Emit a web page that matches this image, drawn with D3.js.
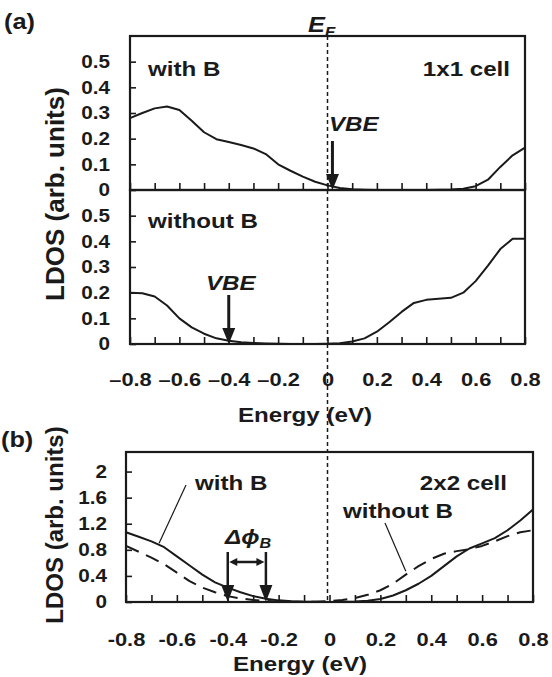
<!DOCTYPE html>
<html>
<head>
<meta charset="utf-8">
<script src="https://cdn.jsdelivr.net/npm/d3@7"></script>
<style>
html, body { margin: 0; padding: 0; background: #fff; }
svg { display: block; font-family: "Liberation Sans", Arial, sans-serif; font-weight: bold; }
</style>
</head>
<body>
<div id="chart"></div>
<script>
// energy grid (eV), shared by all four curves
const energy = [-0.8, -0.75, -0.7, -0.65, -0.6, -0.55, -0.5, -0.45, -0.4, -0.35, -0.3, -0.25, -0.2, -0.15, -0.1, -0.05,
	0, 0.05, 0.1, 0.15, 0.2, 0.25, 0.3, 0.35, 0.4, 0.45, 0.5, 0.55, 0.6, 0.65, 0.7, 0.75, 0.8];

// (a) 1x1 cell
const ldos1x1WithB = [0.28, 0.30, 0.318, 0.325, 0.312, 0.27, 0.225, 0.198, 0.187, 0.175, 0.162, 0.14, 0.10, 0.075, 0.052, 0.032,
	0.018, 0.008, 0.003, 0.001, 0, 0, 0, 0, 0, 0.001, 0.002, 0.005, 0.015, 0.04, 0.09, 0.135, 0.165];
const ldos1x1WithoutB = [0.2, 0.198, 0.185, 0.15, 0.1, 0.065, 0.04, 0.022, 0.013, 0.007, 0.004, 0.002, 0.001, 0, 0, 0,
	0.001, 0.003, 0.01, 0.022, 0.048, 0.085, 0.125, 0.16, 0.172, 0.176, 0.18, 0.2, 0.245, 0.305, 0.37, 0.41, 0.41];

// (b) 2x2 cell
const ldos2x2WithB = [1.07, 1.0, 0.93, 0.84, 0.7, 0.56, 0.42, 0.3, 0.22, 0.15, 0.09, 0.05, 0.025, 0.01, 0.005, 0.002,
	0.001, 0.002, 0.008, 0.02, 0.045, 0.1, 0.18, 0.28, 0.4, 0.55, 0.7, 0.82, 0.9, 0.98, 1.1, 1.25, 1.42];
const ldos2x2WithoutB = [0.86, 0.77, 0.68, 0.58, 0.45, 0.32, 0.22, 0.15, 0.09, 0.055, 0.03, 0.015, 0.008, 0.004, 0.003, 0.005,
	0.015, 0.03, 0.06, 0.11, 0.18, 0.28, 0.42, 0.55, 0.66, 0.74, 0.78, 0.81, 0.86, 0.93, 1.01, 1.07, 1.1];

const energyTicks = [-0.8, -0.7, -0.6, -0.5, -0.4, -0.3, -0.2, -0.1, 0, 0.1, 0.2, 0.3, 0.4, 0.5, 0.6, 0.7, 0.8];
const energyLabels = [-0.8, -0.6, -0.4, -0.2, 0, 0.2, 0.4, 0.6, 0.8];
const ticksA = [0, 0.1, 0.2, 0.3, 0.4, 0.5];
const ticksB = [0, 0.4, 0.8, 1.2, 1.6, 2];

// valence band edges / barrier shift (eV)
const vbe1x1WithB = 0.02;
const vbe1x1WithoutB = -0.4;
const vbe2x2 = [-0.4, -0.25];

const W = 552, H = 677, SX = 1.15, INK = '#1a1a1a';

const svg = d3.select('#chart').append('svg')
	.attr('width', W)
	.attr('height', H);

const xA = d3.scaleLinear().domain([-0.8, 0.8]).range([130, 525]);
const yTop = d3.scaleLinear().domain([0, 0.6]).range([190, 36]);
const yBot = d3.scaleLinear().domain([0, 0.6]).range([344, 190]);
const xB = d3.scaleLinear().domain([-0.8, 0.8]).range([126, 533]);
const yB = d3.scaleLinear().domain([0, 2.3]).range([602, 452]);

const fmtA = d => d === 0 ? '0' : d.toFixed(1).replace('-', '\u2013');
const fmtB = d => d === 0 ? '0' : d.toFixed(1);
const fmtY = d => String(d);

// axis text comes out slightly wide in the original, stretch it the same way
function styleAxis(g, size) {
	g.attr('font-family', null).attr('font-size', size).attr('color', INK);
	g.select('.domain').remove();
	g.selectAll('line').attr('stroke-width', 1.6);
	g.selectAll('text').attr('transform', `scale(${SX},1)`);
}

function leftAxis(y, x0, ticks, pad) {
	svg.append('g')
		.attr('transform', `translate(${x0},0)`)
		.call(d3.axisLeft(y).tickValues(ticks).tickSizeInner(-6).tickSizeOuter(0).tickPadding(pad).tickFormat(fmtY))
		.call(styleAxis, 18);
}

function bottomTicks(x, y0) {
	svg.append('g')
		.attr('transform', `translate(0,${y0})`)
		.call(d3.axisBottom(x).tickValues(energyTicks).tickSizeInner(-7).tickSizeOuter(0).tickFormat(''))
		.call(styleAxis, 18);
}

function bottomLabels(x, y0, fmt, pad) {
	const g = svg.append('g')
		.attr('transform', `translate(0,${y0})`)
		.call(d3.axisBottom(x).tickValues(energyLabels).tickSize(0).tickPadding(pad).tickFormat(fmt))
		.call(styleAxis, 19);
	g.selectAll('line').remove();
}

function frame(x, y) {
	svg.append('rect')
		.attr('x', x.range()[0])
		.attr('y', y.range()[1])
		.attr('width', x.range()[1] - x.range()[0])
		.attr('height', y.range()[0] - y.range()[1])
		.attr('fill', 'none')
		.attr('stroke', INK)
		.attr('stroke-width', 2.2);
}

function curve(x, y, values, dash) {
	const line = d3.line()
		.x((d, i) => x(energy[i]))
		.y(d => y(d));
	svg.append('path')
		.datum(values)
		.attr('d', line)
		.attr('fill', 'none')
		.attr('stroke', INK)
		.attr('stroke-width', 2)
		.attr('stroke-linejoin', 'round')
		.attr('stroke-dasharray', dash || null);
}

function ann(x, y, size, anchor) {
	return svg.append('text')
		.attr('transform', `translate(${x},${y}) scale(${SX},1)`)
		.attr('font-size', size)
		.attr('text-anchor', anchor || 'start')
		.attr('fill', INK);
}

function downArrow(x, ya, yb, hw, hl, lw) {
	svg.append('line')
		.attr('x1', x).attr('x2', x)
		.attr('y1', ya).attr('y2', yb - hl + 1)
		.attr('stroke', INK).attr('stroke-width', lw);
	svg.append('path')
		.attr('d', `M${x - hw / 2},${yb - hl}L${x + hw / 2},${yb - hl}L${x},${yb}Z`)
		.attr('fill', INK);
}

// Fermi level guide, runs through both figures
svg.append('line')
	.attr('x1', xA(0)).attr('x2', xA(0))
	.attr('y1', yTop(0.6)).attr('y2', yB(0))
	.attr('stroke', INK)
	.attr('stroke-width', 1.5)
	.attr('stroke-dasharray', '4,3');

// ---- (a) ----
leftAxis(yTop, 130, ticksA, 17.4);
leftAxis(yBot, 130, ticksA, 17.4);
bottomTicks(xA, yTop(0));
bottomTicks(xA, yBot(0));
bottomLabels(xA, yBot(0), fmtA, 29);
curve(xA, yTop, ldos1x1WithB);
curve(xA, yBot, ldos1x1WithoutB);
frame(xA, yTop);
frame(xA, yBot);

ann(4, 29, 22).text('(a)');
const ef = ann(308, 32, 22).attr('font-style', 'italic');
ef.append('tspan').text('E');
ef.append('tspan').attr('font-size', 15).attr('dy', 5).text('F');
ann(148, 76, 21).text('with B');
ann(510, 76, 21, 'end').text('1x1 cell');
ann(329, 131, 21).attr('font-style', 'italic').text('VBE');
downArrow(xA(vbe1x1WithB), 141, yTop(0), 13, 16, 3);
ann(148, 228, 21).text('without B');
ann(206, 290, 21).attr('font-style', 'italic').text('VBE');
downArrow(xA(vbe1x1WithoutB), 295, yBot(0), 13, 16, 3);
ann(305, 422, 21, 'middle').text('Energy (eV)');
svg.append('text')
	.attr('transform', `translate(64,${(yTop(0.6) + yBot(0)) / 2 + 4}) rotate(-90)`)
	.attr('font-size', 26)
	.attr('text-anchor', 'middle')
	.attr('fill', INK)
	.text('LDOS (arb. units)');

// ---- (b) ----
leftAxis(yB, 126, ticksB, 16.5);
bottomTicks(xB, yB(0));
bottomLabels(xB, yB(0), fmtB, 31);
curve(xB, yB, ldos2x2WithB);
curve(xB, yB, ldos2x2WithoutB, '14,8');
frame(xB, yB);

ann(1, 447, 22).text('(b)');
ann(195, 490, 21).text('with B');
ann(507, 490, 21, 'end').text('2x2 cell');
ann(343, 518, 21).text('without B');
svg.append('line')
	.attr('x1', 186).attr('y1', 485)
	.attr('x2', xB(-0.67)).attr('y2', yB(0.9))
	.attr('stroke', INK).attr('stroke-width', 1.2);
svg.append('line')
	.attr('x1', 385).attr('y1', 523)
	.attr('x2', xB(0.3)).attr('y2', yB(0.47))
	.attr('stroke', INK).attr('stroke-width', 1.2);

const dphi = ann(225, 544, 21).attr('font-style', 'italic');
dphi.append('tspan').text('\u0394\u03d5');
dphi.append('tspan').attr('font-size', 14).attr('dy', 4).text('B');
vbe2x2.forEach(e => downArrow(xB(e), 552, yB(0), 13, 17, 2.5));
// double-headed arrow between the two band edges
const xa = xB(vbe2x2[0]) + 1.5, xb = xB(vbe2x2[1]) - 1.5, ya = 562;
svg.append('line')
	.attr('x1', xa + 7).attr('x2', xb - 7)
	.attr('y1', ya).attr('y2', ya)
	.attr('stroke', INK).attr('stroke-width', 2.5);
svg.append('path')
	.attr('d', `M${xa},${ya}L${xa + 8},${ya - 4}L${xa + 8},${ya + 4}Z M${xb},${ya}L${xb - 8},${ya - 4}L${xb - 8},${ya + 4}Z`)
	.attr('fill', INK);

ann(300, 671, 21, 'middle').text('Energy (eV)');
svg.append('text')
	.attr('transform', `translate(63,${(yB(2.3) + yB(0)) / 2 - 2}) rotate(-90)`)
	.attr('font-size', 24)
	.attr('text-anchor', 'middle')
	.attr('fill', INK)
	.text('LDOS (arb. units)');
</script>
</body>
</html>
